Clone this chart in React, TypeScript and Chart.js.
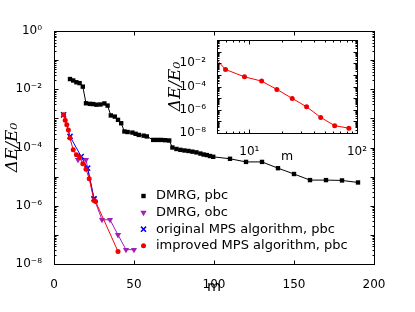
import React, { useEffect, useRef } from "react";
import { Chart, registerables } from "chart.js";

Chart.register(...registerables);

// ---------------- data ----------------
const seriesLabels = [
  "DMRG, pbc",
  "DMRG, obc",
  "original MPS algorithm, pbc",
  "improved MPS algorithm, pbc",
];

const dmrgPbcM = [10, 12, 14, 16, 18, 20, 22.5, 24.5, 26.5, 29, 31.5, 33.5, 35.5, 38, 40, 42, 44, 46, 49, 51, 53, 56, 58, 62, 64.5, 67, 69.5, 72, 74, 76.5, 79, 81.5, 84, 86.5, 89, 91.5, 93.5, 95.5, 97.5, 99.5, 110, 120, 130, 140, 150, 160, 170, 180, 190];
const dmrgPbcE = [2.24e-2, 2.0e-2, 1.74e-2, 1.62e-2, 1.23e-2, 3.3e-3, 3.15e-3, 3.1e-3, 2.95e-3, 3.0e-3, 3.25e-3, 2.75e-3, 1.26e-3, 1.15e-3, 8.9e-4, 6.8e-4, 3.55e-4, 3.4e-4, 3.25e-4, 2.95e-4, 2.7e-4, 2.55e-4, 2.4e-4, 1.82e-4, 1.82e-4, 1.82e-4, 1.78e-4, 1.74e-4, 1.0e-4, 8.9e-5, 8.3e-5, 7.9e-5, 7.6e-5, 7.2e-5, 6.8e-5, 6.2e-5, 5.75e-5, 5.5e-5, 5.1e-5, 4.8e-5, 4.1e-5, 3.2e-5, 3.2e-5, 1.95e-5, 1.23e-5, 7.6e-6, 7.6e-6, 7.4e-6, 6.3e-6];

const dmrgObcM = [15, 20, 25, 30, 35, 40, 45, 50];
const dmrgObcE = [3.8e-5, 3.8e-5, 1.78e-6, 3.3e-7, 3.3e-7, 1.0e-7, 3.1e-8, 3.1e-8];

const origMpsM = [6, 10, 17, 21, 25];
const origMpsE = [1.32e-3, 2.4e-4, 4.9e-5, 1.95e-5, 1.74e-6];

const impMpsM = [6, 7, 8, 9, 10, 12, 14, 16, 18, 20, 22, 25, 26, 40];
const impMpsE = [1.32e-3, 8.7e-4, 6.0e-4, 4.0e-4, 2.1e-4, 8.3e-5, 5.6e-5, 4.7e-5, 2.75e-5, 1.8e-5, 8.5e-6, 1.5e-6, 1.4e-6, 2.7e-8];

const insetM = [4, 6, 9, 13, 18, 25, 34, 46, 62, 84];
const insetE = [0.18, 2.9e-3, 6.8e-4, 2.9e-4, 5.6e-5, 9.5e-6, 1.8e-6, 2.2e-7, 4.3e-8, 2.6e-8];

const mainXTicks = [0, 50, 100, 150, 200];
const mainYTicks = [1e-8, 1e-6, 1e-4, 1e-2, 1];
const insetXTicks = [10, 100];
const insetYTicks = [1e-8, 1e-6, 1e-4, 1e-2];

// ---------------- helpers ----------------
const SUP: Record<string, string> = {
  "0": "\u2070", "1": "\u00b9", "2": "\u00b2", "3": "\u00b3", "4": "\u2074",
  "5": "\u2075", "6": "\u2076", "7": "\u2077", "8": "\u2078", "9": "\u2079", "-": "\u207b",
};
function powLabel(v: number): string {
  const e = Math.round(Math.log10(v));
  return "10" + String(e).split("").map((c) => SUP[c]).join("");
}

function logTickSets(min: number, max: number) {
  const major: number[] = [];
  const minor: number[] = [];
  const e0 = Math.floor(Math.log10(min));
  const e1 = Math.ceil(Math.log10(max));
  for (let e = e0; e <= e1; e++) {
    for (let k = 1; k < 10; k++) {
      const v = k * Math.pow(10, e);
      if (v < min * 0.9999 || v > max * 1.0001) continue;
      (k === 1 ? major : minor).push(v);
    }
  }
  return { major, minor };
}

type TickSpec = { values: number[]; len: number };

function makeFramePlugin(xSpecs: TickSpec[], ySpecs: TickSpec[], fillWhite: boolean) {
  return {
    id: "frameTicks",
    beforeDatasetsDraw(chart: any) {
      if (!fillWhite) return;
      const { ctx, chartArea } = chart;
      ctx.save();
      ctx.fillStyle = "#fff";
      ctx.fillRect(chartArea.left, chartArea.top, chartArea.right - chartArea.left, chartArea.bottom - chartArea.top);
      ctx.restore();
    },
    afterDraw(chart: any) {
      const { ctx, chartArea } = chart;
      const xs = chart.scales.x;
      const ys = chart.scales.y;
      const L = Math.round(chartArea.left) + 0.5;
      const R = Math.round(chartArea.right) + 0.5;
      const T = Math.round(chartArea.top) + 0.5;
      const B = Math.round(chartArea.bottom) + 0.5;
      ctx.save();
      ctx.strokeStyle = "#000";
      ctx.lineWidth = 1;
      ctx.beginPath();
      for (const s of xSpecs) {
        for (const v of s.values) {
          const p = Math.round(xs.getPixelForValue(v)) + 0.5;
          ctx.moveTo(p, B);
          ctx.lineTo(p, B - s.len);
          ctx.moveTo(p, T);
          ctx.lineTo(p, T + s.len);
        }
      }
      for (const s of ySpecs) {
        for (const v of s.values) {
          const p = Math.round(ys.getPixelForValue(v)) + 0.5;
          ctx.moveTo(L, p);
          ctx.lineTo(L + s.len, p);
          ctx.moveTo(R, p);
          ctx.lineTo(R - s.len, p);
        }
      }
      ctx.stroke();
      ctx.strokeRect(L, T, R - L, B - T);
      ctx.restore();
    },
  };
}

function drawMarker(ctx: CanvasRenderingContext2D, ds: any, x: number, y: number) {
  const style = ds.pointStyle;
  const r = ds.pointRadius;
  ctx.save();
  ctx.fillStyle = ds.pointBackgroundColor || ds.backgroundColor;
  ctx.strokeStyle = ds.pointBorderColor || ds.borderColor;
  ctx.lineWidth = ds.pointBorderWidth || 1;
  ctx.beginPath();
  if (style === "rect") {
    const h = Math.SQRT1_2 * r;
    ctx.rect(x - h, y - h, 2 * h, 2 * h);
    ctx.fill();
  } else if (style === "triangle") {
    const rot = ((ds.pointRotation || 0) * Math.PI) / 180;
    let a = rot;
    ctx.moveTo(x + Math.sin(a) * r, y - Math.cos(a) * r);
    a += (2 * Math.PI) / 3;
    ctx.lineTo(x + Math.sin(a) * r, y - Math.cos(a) * r);
    a += (2 * Math.PI) / 3;
    ctx.lineTo(x + Math.sin(a) * r, y - Math.cos(a) * r);
    ctx.closePath();
    ctx.fill();
  } else if (style === "crossRot") {
    const o = Math.SQRT1_2 * r;
    ctx.moveTo(x - o, y - o);
    ctx.lineTo(x + o, y + o);
    ctx.moveTo(x - o, y + o);
    ctx.lineTo(x + o, y - o);
    ctx.stroke();
  } else {
    ctx.arc(x, y, r, 0, Math.PI * 2);
    ctx.fill();
  }
  ctx.restore();
}

function makeLegendPlugin(markerX: number, textX: number, rowY: number[], font: string) {
  return {
    id: "mplLegend",
    afterDraw(chart: any) {
      const { ctx } = chart;
      chart.data.datasets.forEach((ds: any, i: number) => {
        const y = rowY[i];
        drawMarker(ctx, ds, markerX, y);
        ctx.save();
        ctx.fillStyle = "#000";
        ctx.font = font;
        ctx.textAlign = "left";
        ctx.textBaseline = "middle";
        ctx.fillText(ds.label, textX, y);
        ctx.restore();
      });
    },
  };
}

function pts(xs: number[], ys: number[]) {
  return xs.map((x, i) => ({ x, y: ys[i] }));
}

const FONT = "DejaVu Sans";

// ---------------- component ----------------
export default function App() {
  const mainRef = useRef<HTMLCanvasElement>(null);
  const insetRef = useRef<HTMLCanvasElement>(null);

  useEffect(() => {
    const mainLog = logTickSets(1e-8, 1);
    const mainChart = new Chart(mainRef.current as HTMLCanvasElement, {
      type: "line",
      data: {
        datasets: [
          {
            label: seriesLabels[0],
            data: pts(dmrgPbcM, dmrgPbcE),
            borderColor: "#000",
            backgroundColor: "#000",
            borderWidth: 1,
            pointStyle: "rect",
            pointRadius: 3.1,
            pointBorderWidth: 0,
            order: 3,
          },
          {
            label: seriesLabels[1],
            data: pts(dmrgObcM, dmrgObcE),
            borderColor: "#a020b8",
            backgroundColor: "#a020b8",
            borderWidth: 1,
            pointStyle: "triangle",
            pointRotation: 180,
            pointRadius: 3.6,
            pointBorderWidth: 0,
            order: 2,
          },
          {
            label: seriesLabels[2],
            data: pts(origMpsM, origMpsE),
            borderColor: "#0000ff",
            backgroundColor: "#0000ff",
            borderWidth: 1,
            pointStyle: "crossRot",
            pointRadius: 3.6,
            pointBorderWidth: 1.5,
            order: 1,
          },
          {
            label: seriesLabels[3],
            data: pts(impMpsM, impMpsE),
            borderColor: "#ff0000",
            backgroundColor: "#ee0000",
            borderWidth: 1,
            pointStyle: "circle",
            pointRadius: 2.5,
            pointBorderWidth: 0,
            order: 0,
          },
        ],
      } as any,
      options: {
        animation: false,
        responsive: false,
        layout: { padding: { left: 0, top: 31, right: 41, bottom: 0 } },
        plugins: { legend: { display: false }, tooltip: { enabled: false } },
        scales: {
          x: {
            type: "linear",
            min: 0,
            max: 200,
            grid: { display: false },
            border: { display: false },
            afterBuildTicks: (s: any) => {
              s.ticks = mainXTicks.map((v) => ({ value: v }));
            },
            afterFit: (s: any) => {
              s.height = 48;
            },
            ticks: { color: "#000", font: { family: FONT, size: 12 }, padding: 6, maxRotation: 0, autoSkip: false },
            title: {
              display: true,
              text: "m",
              color: "#000",
              font: { family: FONT, size: 14.4 },
              padding: { top: 0, bottom: 16.5 },
            },
          },
          y: {
            type: "logarithmic",
            min: 1e-8,
            max: 1,
            grid: { display: false },
            border: { display: false },
            afterBuildTicks: (s: any) => {
              s.ticks = mainYTicks.map((v) => ({ value: v }));
            },
            afterFit: (s: any) => {
              s.width = 54;
            },
            ticks: {
              color: "#000",
              font: { family: FONT, size: 12 },
              padding: 4,
              autoSkip: false,
              callback: (v: any) => powLabel(Number(v)),
            },
            title: {
              display: true,
              text: "\u0394E/E\u2080",
              color: "#000",
              font: { family: "DejaVu Serif", size: 17, style: "italic" },
              padding: { top: 2.5, bottom: 0 },
            },
          },
        },
      } as any,
      plugins: [
        makeFramePlugin(
          [{ values: mainXTicks, len: 4 }],
          [
            { values: mainLog.major, len: 4 },
            { values: mainLog.minor, len: 2 },
          ],
          false
        ),
        makeLegendPlugin(143.5, 156, [196, 212.6, 229.2, 245.8], `13px "${FONT}"`),
      ] as any,
    });

    const insetLogX = logTickSets(5, 100);
    const insetLogY = logTickSets(1e-8, 1);
    const insetChart = new Chart(insetRef.current as HTMLCanvasElement, {
      type: "line",
      data: {
        datasets: [
          {
            label: seriesLabels[3],
            data: pts(insetM, insetE),
            borderColor: "#ff0000",
            backgroundColor: "#ee0000",
            borderWidth: 1,
            pointStyle: "circle",
            pointRadius: 2.5,
            pointBorderWidth: 0,
          },
        ],
      } as any,
      options: {
        animation: false,
        responsive: false,
        layout: { padding: { left: 0, top: 15, right: 23, bottom: 0 } },
        plugins: { legend: { display: false }, tooltip: { enabled: false } },
        scales: {
          x: {
            type: "logarithmic",
            min: 5,
            max: 100,
            grid: { display: false },
            border: { display: false },
            afterBuildTicks: (s: any) => {
              s.ticks = insetXTicks.map((v) => ({ value: v }));
            },
            afterFit: (s: any) => {
              s.height = 42;
            },
            ticks: {
              color: "#000",
              font: { family: FONT, size: 12 },
              padding: 4,
              maxRotation: 0,
              autoSkip: false,
              callback: (v: any) => powLabel(Number(v)),
            },
            title: {
              display: true,
              text: "m",
              color: "#000",
              font: { family: FONT, size: 12.5 },
              padding: { top: 0, bottom: 10.5 },
            },
          },
          y: {
            type: "logarithmic",
            min: 1e-8,
            max: 1,
            grid: { display: false },
            border: { display: false },
            afterBuildTicks: (s: any) => {
              s.ticks = insetYTicks.map((v) => ({ value: v }));
            },
            afterFit: (s: any) => {
              s.width = 67;
            },
            ticks: {
              color: "#000",
              font: { family: FONT, size: 12 },
              padding: 3,
              autoSkip: false,
              callback: (v: any) => powLabel(Number(v)),
            },
            title: {
              display: true,
              text: "\u0394E/E\u2080",
              color: "#000",
              font: { family: "DejaVu Serif", size: 17, style: "italic" },
              padding: { top: 15, bottom: 0 },
            },
          },
        },
      } as any,
      plugins: [
        makeFramePlugin(
          [
            { values: insetLogX.major, len: 4 },
            { values: insetLogX.minor, len: 2 },
          ],
          [
            { values: insetLogY.major, len: 4 },
            { values: insetLogY.minor, len: 2 },
          ],
          true
        ),
      ] as any,
    });

    return () => {
      mainChart.destroy();
      insetChart.destroy();
    };
  }, []);

  return (
    <div style={{ position: "fixed", left: 0, top: 0, width: 415, height: 312, background: "#fff" }}>
      <canvas
        ref={mainRef}
        width={415}
        height={312}
        style={{ position: "absolute", left: 0, top: 0, width: 415, height: 312 }}
      />
      <canvas
        ref={insetRef}
        width={230}
        height={150}
        style={{ position: "absolute", left: 150, top: 25, width: 230, height: 150 }}
      />
    </div>
  );
}
